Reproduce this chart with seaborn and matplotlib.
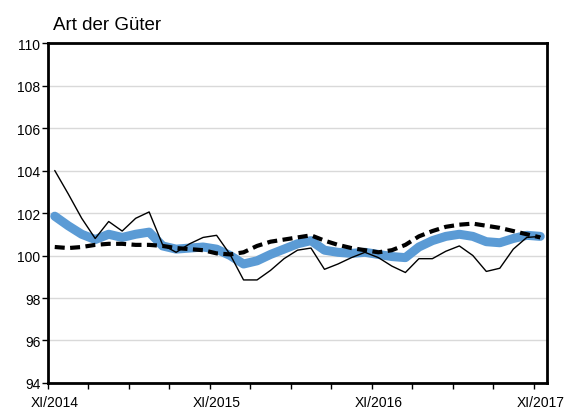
import matplotlib
matplotlib.use("Agg")
import matplotlib.pyplot as plt
import seaborn as sns
import numpy as np
import pandas as pd

# Data (monthly, XI/2014 .. XI/2017)
months = list(range(37))
thin_values = [104.0, 102.9, 101.75, 100.8, 101.6, 101.15, 101.75, 102.05, 100.5, 100.15,
               100.55, 100.85, 100.95, 100.05, 98.85, 98.85, 99.3, 99.85, 100.25, 100.35,
               99.35, 99.6, 99.9, 100.15, 99.9, 99.5, 99.2, 99.85, 99.85, 100.2,
               100.45, 100.0, 99.25, 99.4, 100.3, 100.85, 100.9]
blue_values = [101.85, 101.4, 101.0, 100.75, 101.0, 100.85, 101.0, 101.1, 100.45, 100.3,
               100.35, 100.4, 100.3, 100.0, 99.6, 99.75, 100.05, 100.3, 100.55, 100.7,
               100.25, 100.15, 100.1, 100.15, 100.05, 99.95, 99.9, 100.4, 100.7, 100.9,
               101.0, 100.9, 100.65, 100.6, 100.8, 100.95, 100.9]
dashed_values = [100.4, 100.35, 100.4, 100.5, 100.55, 100.55, 100.5, 100.5, 100.45, 100.35,
                 100.3, 100.25, 100.1, 100.05, 100.15, 100.45, 100.65, 100.75, 100.85, 100.95,
                 100.7, 100.5, 100.35, 100.25, 100.15, 100.25, 100.5, 100.9, 101.15, 101.35,
                 101.45, 101.5, 101.4, 101.3, 101.15, 101.0, 100.85]
label_positions = [0, 12, 24, 36]
x_labels = ["XI/2014", "XI/2015", "XI/2016", "XI/2017"]
y_ticks = [94, 96, 98, 100, 102, 104, 106, 108, 110]
title = "Art der Güter"

sns.set_theme(style="white")
plt.rcParams['font.family'] = ['Liberation Sans', 'DejaVu Sans']

x = np.array(months) + 0.5
df = pd.DataFrame({"x": x, "thin": thin_values, "blue": blue_values, "dashed": dashed_values})

fig = plt.figure(figsize=(5.68, 4.10), dpi=100)
ax = fig.add_axes([48/568, 1 - 384/410, (547 - 48)/568, (384 - 44)/410])

sns.lineplot(data=df, x="x", y="blue", ax=ax, color="#5B9BD5", linewidth=6.5,
             solid_capstyle="round", zorder=3)
sns.lineplot(data=df, x="x", y="dashed", ax=ax, color="black", linewidth=3.0,
             dashes=False, zorder=4)
ax.lines[-1].set_dashes((2.4, 1.3))
sns.lineplot(data=df, x="x", y="thin", ax=ax, color="black", linewidth=1.0, zorder=5)

ax.set_xlim(0, 37)
ax.set_ylim(94, 110)
ax.set_yticks(y_ticks)
ax.set_yticklabels([str(v) for v in y_ticks], fontsize=10, color="black")
ax.yaxis.grid(True, color="#d9d9d9", linewidth=1.0)
ax.set_axisbelow(True)

ax.set_xticks(list(range(0, 37, 3)))
ax.set_xticklabels([])
ax.set_xticks([p + 0.5 for p in label_positions], minor=True)
ax.set_xticklabels(x_labels, minor=True, fontsize=10, color="black")
ax.tick_params(axis="x", which="major", direction="out", length=4, width=1, color="black", bottom=True)
ax.tick_params(axis="x", which="minor", length=0, pad=9, bottom=True)
ax.tick_params(axis="y", direction="out", length=4, width=1, color="black", left=True, pad=1.5)

ax.set_xlabel("")
ax.set_ylabel("")
for s in ax.spines.values():
    s.set_visible(True)
    s.set_color("black")
    s.set_linewidth(2.0)

fig.text(53/568, 1 - 30/410, title, fontsize=13.5, ha="left", va="baseline", color="black")

fig.savefig("out.png", dpi=100)
